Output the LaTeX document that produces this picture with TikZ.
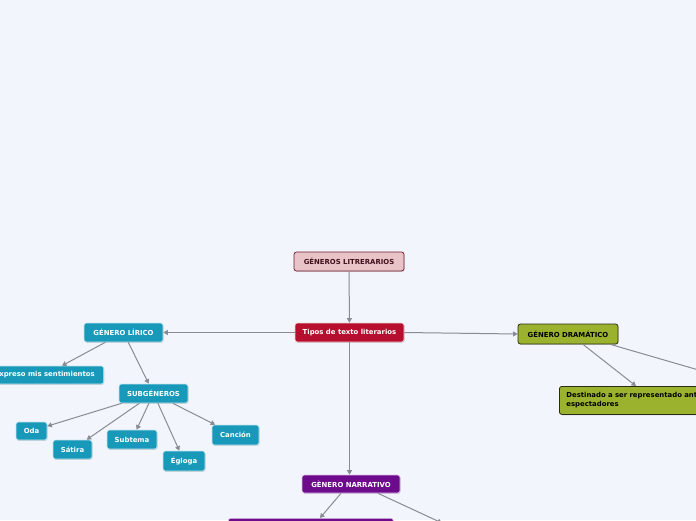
\documentclass[tikz,border=0pt]{standalone}
\usepackage{fontspec}
\setmainfont{DejaVu Sans}
\usetikzlibrary{shadows,arrows.meta}
\definecolor{bg}{HTML}{F3F5FD}
\definecolor{linec}{HTML}{8A8C94}
\definecolor{pinkf}{HTML}{E8C3C8}
\definecolor{pinkd}{HTML}{6E1B2E}
\definecolor{redf}{HTML}{B50E2E}
\definecolor{tealf}{HTML}{1899BA}
\definecolor{olivef}{HTML}{9BB22E}
\definecolor{olived}{HTML}{2B2B14}
\definecolor{purplef}{HTML}{6E0A8C}
\begin{document}
\begin{tikzpicture}[x=1pt,y=-1pt,
  box/.style={rounded corners=2.5pt, font=\bfseries\fontsize{6.9}{9}\selectfont, inner sep=2pt, minimum height=19pt,
    drop shadow={shadow xshift=0.6pt,shadow yshift=-0.9pt,opacity=0.3}},
  pinkbox/.style={box, fill=pinkf, draw=pinkd, line width=0.7pt, text=pinkd!60!black},
  redbox/.style={box, fill=redf, draw=white!80!redf, line width=0.6pt, text=white},
  tealbox/.style={box, fill=tealf, draw=white!75!tealf, line width=0.6pt, text=white},
  olivebox/.style={box, fill=olivef, draw=olived, line width=0.8pt, text=black},
  purplebox/.style={box, fill=purplef, draw=white!75!purplef, line width=0.6pt, text=white},
  conn/.style={draw=linec, line width=1pt, -{Triangle[length=4.5pt,width=5pt]}}]
\useasboundingbox (0,0) rectangle (696,520);
\fill[bg] (0,0) rectangle (696,520);
\clip (0,0) rectangle (696,520);

\node[pinkbox, minimum width=110] (gl) at (349,261.5) {GÉNEROS LITRERARIOS};
\node[redbox, minimum width=109] (tipos) at (349.5,332.5) {Tipos de texto literarios};
\node[tealbox, minimum width=79] (lir) at (123.5,332.5) {GÉNERO LÍRICO};
\node[tealbox, anchor=east, minimum width=118, minimum height=18] (exp) at (104,375) {Expreso mis sentimientos};
\node[tealbox, minimum width=69] (sub) at (153.5,393.5) {SUBGÉNEROS};
\node[tealbox, minimum width=31, minimum height=18] (oda) at (31.5,431) {Oda};
\node[tealbox, minimum width=39] (sat) at (72.5,449.5) {Sátira};
\node[tealbox, minimum width=50] (subt) at (132,439.5) {Subtema};
\node[tealbox, minimum width=42, minimum height=20] (egl) at (184,461) {Égloga};
\node[tealbox, minimum width=47, minimum height=20] (can) at (235.5,435) {Canción};
\node[olivebox, minimum width=100, minimum height=20] (dra) at (568,334) {GÉNERO DRAMÁTICO};
\node[olivebox, anchor=north west, align=left, text width=160, inner xsep=7, minimum height=28] (des) at (559,386) {Destinado a ser representado ante\\espectadores};
\node[purplebox, minimum width=98, minimum height=18] (nar) at (351,484) {GÈNERO NARRATIVO};
\node[purplebox, anchor=north west, minimum width=165, minimum height=20] (nb) at (228,518) {};
\coordinate (offr) at (702,371);
\coordinate (offb) at (442,523);

\draw[conn] (gl) -- (tipos);
\draw[conn] (tipos) -- (lir);
\draw[conn] (tipos.east) -- (dra.west);
\draw[conn] (tipos.south) -- (tipos.south |- nar.north);
\draw[conn] (lir) -- (exp);
\draw[conn] (lir) -- (sub);
\draw[conn] (sub) -- (oda);
\draw[conn] (sub) -- (sat);
\draw[conn] (sub) -- (subt);
\draw[conn] (sub) -- (egl);
\draw[conn] (sub) -- (can);
\draw[conn] ([xshift=15pt]dra.south) -- ([xshift=77pt]des.north west);
\draw[conn] ([xshift=-8pt]dra.south east) -- (offr);
\draw[conn] ([xshift=-10pt]nar.south) -- ([xshift=92pt]nb.north west);
\draw[conn] ([xshift=27pt]nar.south) -- (offb);
\end{tikzpicture}
\end{document}
